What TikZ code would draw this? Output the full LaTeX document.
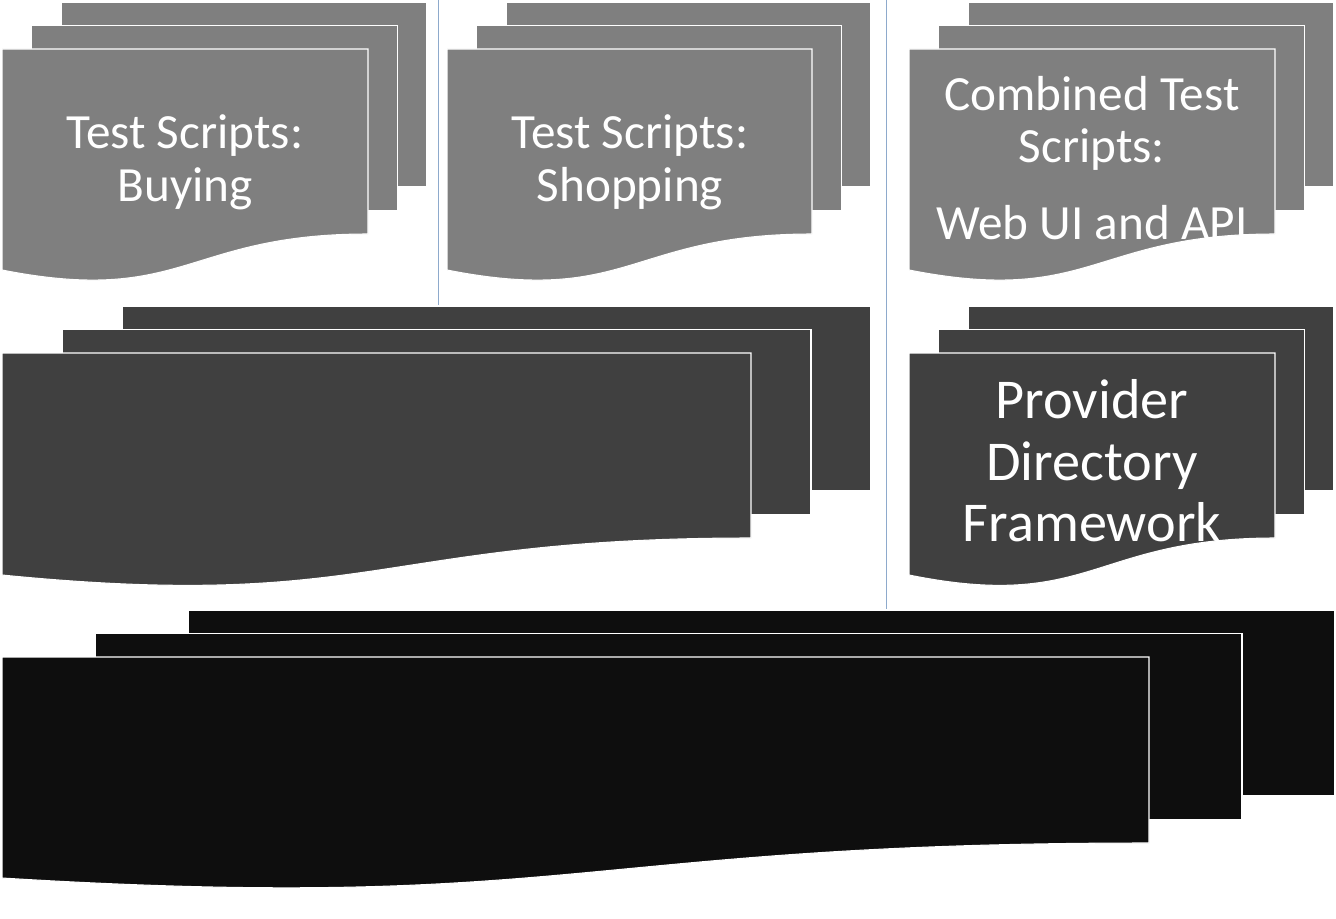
\documentclass[tikz,border=0pt]{standalone}
\usepackage{fontspec}
\setmainfont{Carlito}
\usetikzlibrary{positioning}

\definecolor{scriptgray}{HTML}{7F7F7F}
\definecolor{frameworkgray}{HTML}{404040}
\definecolor{basegray}{HTML}{0E0E0E}
\definecolor{splitblue}{HTML}{8EAACC}

% three stacked pages: fill, left, top, right, front right bottom, front left bottom, dx, dy
\newcommand{\stackdoc}[8]{%
  \draw[page, fill=#1] ({#2+2*#7},#3) -- (#4,#3) -- (#4,{#5-2*#8}) -- ({#2+2*#7},{#5-2*#8}) -- cycle;
  \draw[page, fill=#1] ({#2+#7},{#3+#8}) -- ({#4-#7},{#3+#8}) -- ({#4-#7},{#5-#8}) -- ({#2+#7},{#5-#8}) -- cycle;
  \draw[page, fill=#1] (#2,{#3+2*#8}) -- ({#4-2*#7},{#3+2*#8}) -- ({#4-2*#7},#5)
    .. controls ({(#2+#4)/2-#7},#5) and ({(#2+#4)/2-#7},{2*#6-#5}) .. (#2,#6) -- cycle;
}

\begin{document}
\begin{tikzpicture}[x=0.02cm, y=-0.02cm,
  page/.style={draw=white, line width=0.6pt},
  splitline/.style={draw=splitblue, line width=0.5pt},
  doctext/.style={text=white, align=center, inner sep=0pt}]
\useasboundingbox (0,0) rectangle (1336,919);
% Draw column separators
\draw[splitline] (438.5,0) -- (438.5,306);
\draw[splitline] (886.5,0) -- (886.5,610);
% Draw test script stacks
\stackdoc{scriptgray}{2}{2}{427}{234}{270}{29.5}{23.5}
\stackdoc{scriptgray}{447}{2}{871}{234}{270}{29.5}{23.5}
\stackdoc{scriptgray}{909}{2}{1334}{234}{270}{29.5}{23.5}
% Draw framework stacks
\stackdoc{frameworkgray}{2}{306}{871}{538}{575}{60}{23.5}
\stackdoc{frameworkgray}{909}{306}{1334}{538}{575}{29.5}{23.5}
% Draw base stack
\stackdoc{basegray}{2}{610}{1335}{843}{878}{93}{23.5}
% Labels
\node[doctext, font=\fontsize{28}{30}\selectfont] (buying) at (185,162) {Test Scripts:\\Buying};
\node[doctext, font=\fontsize{28}{30}\selectfont] (shopping) at (630,162) {Test Scripts:\\Shopping};
\node[doctext, font=\fontsize{28}{30}\selectfont] (combined) at (1092,158) {Combined Test\\Scripts:\\[13.7pt]Web UI and API};
\node[doctext, font=\fontsize{32}{35}\selectfont] (provider) at (1092,461) {Provider\\Directory\\Framework};
\end{tikzpicture}
\end{document}
